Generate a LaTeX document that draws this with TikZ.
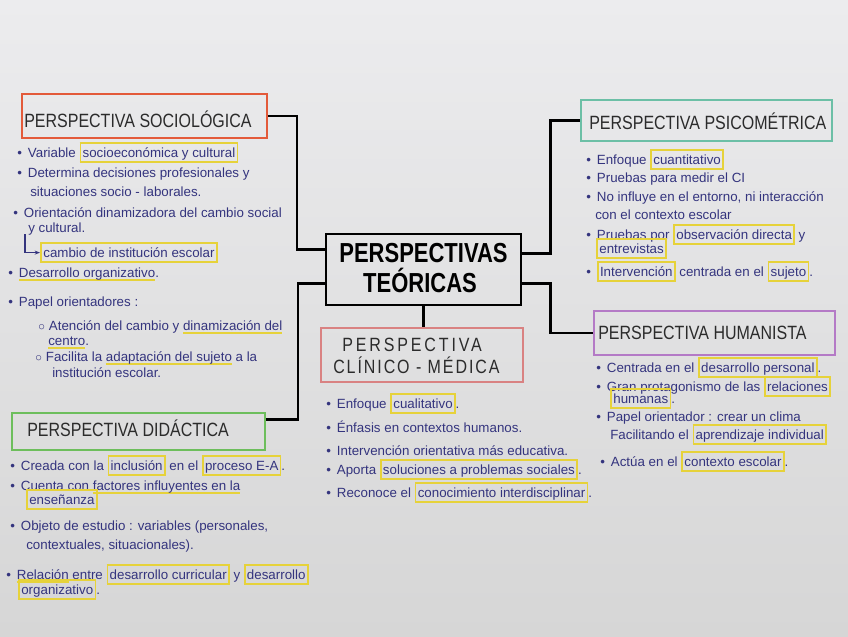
\documentclass[tikz,border=0pt]{standalone}
\usepackage{fontspec}
\setmainfont{Liberation Sans}
\usepackage{graphicx}
\usetikzlibrary{calc,arrows.meta}
\definecolor{ink}{HTML}{34347E}
\definecolor{hly}{HTML}{E6D23A}
\definecolor{ttl}{HTML}{2B2B2B}
\definecolor{csoc}{HTML}{E35A3A}
\definecolor{cdid}{HTML}{6DBE5C}
\definecolor{cpsi}{HTML}{6CBFA6}
\definecolor{chum}{HTML}{B47AC6}
\definecolor{ccli}{HTML}{D98282}
\definecolor{paperT}{HTML}{ECECEE}
\definecolor{paperB}{HTML}{D6D6D6}
\newdimen\px \px=0.75pt
\setlength{\fboxsep}{1pt}\setlength{\fboxrule}{1.3pt}
\newcommand\hl[1]{{\color{hly}\fbox{\color{ink}\vphantom{Ág}#1}}}
\newcommand\hlu[1]{\setbox0=\hbox{#1}\leavevmode\rlap{\color{hly}\rule[-3pt]{\wd0}{1.6pt}}\box0\relax}
\newcommand\bul{\makebox[8pt][l]{\textbullet}}
\newcommand\sbul{\makebox[8pt][l]{$\circ$}}
\newcommand\tscale[1]{\scalebox{1}[1.2]{#1}}
\tikzset{
  ln/.style={anchor=base west, inner sep=0pt, text=ink, font=\fontsize{10}{12}\selectfont},
  ttlnode/.style={anchor=base west, inner sep=0pt, text=ttl, font=\fontsize{12}{14}\selectfont},
  ctext/.style={anchor=base, inner sep=0pt, text=black, font=\bfseries\fontsize{16.5}{18}\selectfont},
  pbox/.style={draw=#1, line width=1.4pt, inner sep=0pt},
  conn/.style={line width=2pt, black},
}
\begin{document}
\begin{tikzpicture}[x=0.75pt,y=-0.75pt]
\shade[top color=paperT, bottom color=paperB] (0,0) rectangle (848,636);
\useasboundingbox (0,0) rectangle (848,636);

% boxes
\node[draw=black, line width=2pt, inner sep=0pt, minimum width=195\px, minimum height=71\px] (c) at (423.5,269.5) {};
\node[pbox=csoc, minimum width=245\px, minimum height=44\px] (soc) at (144.5,116) {};
\node[pbox=cdid, minimum width=253\px, minimum height=37\px] (did) at (138.5,431.5) {};
\node[pbox=cpsi, minimum width=251\px, minimum height=41\px] (psi) at (706.5,120.5) {};
\node[pbox=chum, minimum width=241\px, minimum height=44\px] (hum) at (714.5,333) {};
\node[pbox=ccli, minimum width=202\px, minimum height=54\px] (cli) at (422,355) {};

% connectors
\draw[conn] (soc.east) -- ++(29,0) |- ($(c.west)+(0,-20)$);
\draw[conn] ($(did.east)+(0,-12)$) -- ++(32,0) |- ($(c.west)+(0,14)$);
\draw[conn] ($(c.east)+(0,-16)$) -- ++(28,0) |- (psi.west);
\draw[conn] ($(c.east)+(0,14)$) -- ++(28,0) |- (hum.west);
\draw[conn] (c.south) -- (c.south |- cli.north);

% titles
\node[ctext] (ct1) at (423.5,262) {\scalebox{1}[1.25]{PERSPECTIVAS}};
\node[ctext] (ct2) at (420,292) {\scalebox{1}[1.25]{TEÓRICAS}};
\node[ttlnode] (tsoc) at (24,127) {\tscale{PERSPECTIVA SOCIOLÓGICA}};
\node[ttlnode] (tdid) at (27,436) {\tscale{PERSPECTIVA DIDÁCTICA}};
\node[ttlnode] (tpsi) at (589,129) {\tscale{PERSPECTIVA PSICOMÉTRICA}};
\node[ttlnode] (thum) at (598,339) {\tscale{PERSPECTIVA HUMANISTA}};
\node[ttlnode, font=\fontsize{12}{14}\selectfont\addfontfeatures{LetterSpace=18}] (tcli1) at (342,351) {\tscale{PERSPECTIVA}};
\node[ttlnode, font=\fontsize{12}{14}\selectfont\addfontfeatures{LetterSpace=12}] (tcli2) at (333,373) {\tscale{CLÍNICO - MÉDICA}};

% sociologica
\node[ln] (s1) at (17,157) {\bul Variable \hl{socioeconómica y cultural}};
\node[ln] (s2) at (17,177) {\bul Determina decisiones profesionales y};
\node[ln] (s2b) at (30,196) {situaciones socio - laborales.};
\node[ln] (s3) at (13,217) {\bul Orientación dinamizadora del cambio social};
\node[ln] (s3b) at (28,232) {y cultural.};
\node[ln] (s3c) at (40,257) {\hl{cambio de institución escolar}};
\coordinate (arrS) at (25,234);
\draw[ink, line width=0.8pt, -{Stealth[length=4pt]}] (arrS) |- (s3c.west);
\node[ln] (s4) at (8,277) {\bul \hlu{Desarrollo organizativo}.};
\node[ln] (s5) at (8,306) {\bul Papel orientadores :};
\node[ln] (s6) at (38,330) {\sbul Atención del cambio y \hlu{dinamización del}};
\node[ln] (s6b) at (48,345) {\hlu{centro}.};
\node[ln] (s7) at (35,361) {\sbul Facilita la \hlu{adaptación del sujeto} a la};
\node[ln] (s7b) at (52,377) {institución escolar.};

% didactica
\node[ln] (d1) at (10,470) {\bul Creada con la \hl{inclusión} en el \hl{proceso E-A}.};
\node[ln] (d2) at (10,490) {\bul Cuenta con \hlu{factores influyentes en la}};
\node[ln] (d2b) at (26,504) {\hl{enseñanza}};
\node[ln] (d3) at (10,530) {\bul Objeto de estudio : variables (personales,};
\node[ln] (d3b) at (26,549) {contextuales, situacionales).};
\node[ln] (d4) at (6,579) {\bul \hlu{Relación} entre \hl{desarrollo curricular} y \hl{desarrollo}};
\node[ln] (d4b) at (18,594) {\hl{organizativo}.};

% clinico-medica
\node[ln] (k1) at (326,408) {\bul Enfoque \hl{cualitativo}.};
\node[ln] (k2) at (326,432) {\bul Énfasis en contextos humanos.};
\node[ln] (k3) at (326,455) {\bul Intervención orientativa más educativa.};
\node[ln] (k4) at (326,474) {\bul Aporta \hl{soluciones a problemas sociales}.};
\node[ln] (k5) at (326,497) {\bul Reconoce el \hl{conocimiento interdisciplinar}.};

% psicometrica
\node[ln] (p1) at (586,164) {\bul Enfoque \hl{cuantitativo}};
\node[ln] (p2) at (586,182) {\bul Pruebas para medir el CI};
\node[ln] (p3) at (586,201) {\bul No influye en el entorno, ni interacción};
\node[ln] (p3b) at (595,219) {con el contexto escolar};
\node[ln] (p4) at (586,239) {\bul Pruebas por \hl{observación directa} y};
\node[ln] (p4b) at (596,253) {\hl{entrevistas}};
\node[ln] (p5) at (586,276) {\bul \hl{Intervención} centrada en el \hl{sujeto}.};

% humanista
\node[ln] (h1) at (596,372) {\bul Centrada en el \hl{desarrollo personal}.};
\node[ln] (h2) at (596,391) {\bul Gran protagonismo de las \hl{relaciones}};
\node[ln] (h2b) at (610,403) {\hl{humanas}.};
\node[ln] (h3) at (596,421) {\bul Papel orientador : crear un clima};
\node[ln] (h3b) at (610,439) {Facilitando el \hl{aprendizaje individual}};
\node[ln] (h4) at (600,466) {\bul Actúa en el \hl{contexto escolar}.};
\end{tikzpicture}
\end{document}
